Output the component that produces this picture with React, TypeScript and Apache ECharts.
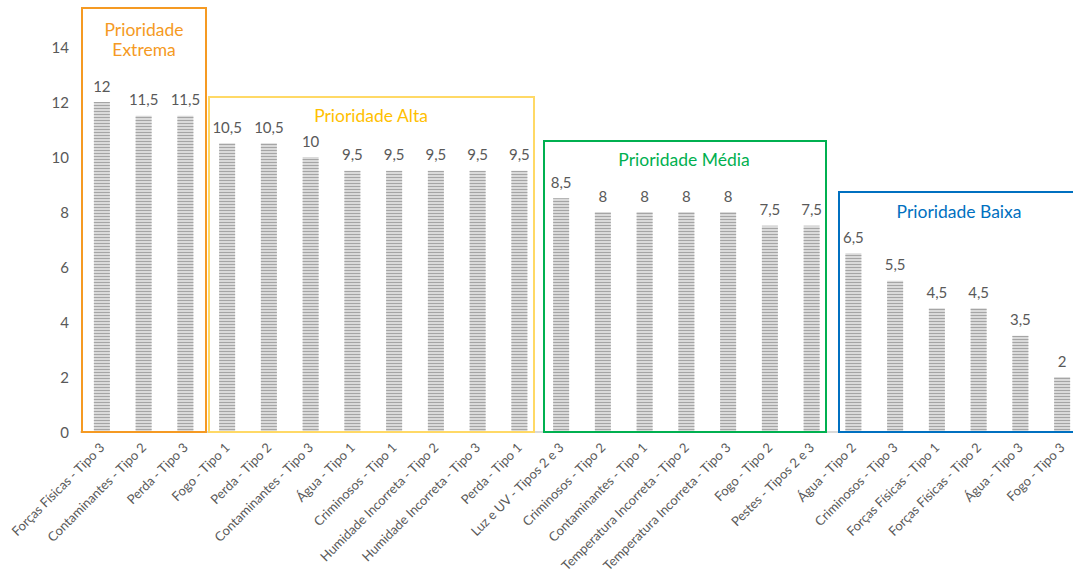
import React, { useEffect, useRef } from "react";
import * as echarts from "echarts";

const categories = [
  "Forças Físicas - Tipo 3",
  "Contaminantes - Tipo 2",
  "Perda - Tipo 3",
  "Fogo - Tipo 1",
  "Perda - Tipo 2",
  "Contaminantes - Tipo 3",
  "Água - Tipo 1",
  "Criminosos - Tipo 1",
  "Humidade Incorreta - Tipo 2",
  "Humidade Incorreta - Tipo 3",
  "Perda - Tipo 1",
  "Luz e UV - Tipos 2 e 3",
  "Criminosos - Tipo 2",
  "Contaminantes - Tipo 1",
  "Temperatura Incorreta - Tipo 2",
  "Temperatura Incorreta - Tipo 3",
  "Fogo - Tipo 2",
  "Pestes - Tipos 2 e 3",
  "Água - Tipo 2",
  "Criminosos - Tipo 3",
  "Forças Físicas - Tipo 1",
  "Forças Físicas - Tipo 2",
  "Água - Tipo 3",
  "Fogo - Tipo 3",
];

const values = [
  12, 11.5, 11.5, 10.5, 10.5, 10, 9.5, 9.5, 9.5, 9.5, 9.5, 8.5, 8, 8, 8, 8, 7.5, 7.5, 6.5, 5.5, 4.5, 4.5, 3.5, 2,
];

const yMin = 0;
const yMax = 14;
const yInterval = 2;

const FONT = "Lato, 'Open Sans', sans-serif";
const GRAY = "#595959";

export default function App() {
  const ref = useRef<HTMLDivElement>(null);
  useEffect(() => {
    document.body.style.margin = "0";
    const chart = echarts.init(ref.current!, null, { renderer: "svg" });
    const box = (
      x: number,
      y: number,
      w: number,
      h: number,
      color: string,
      text: string,
      tx: number,
      ty: number,
      textColor: string
    ) => [
      {
        type: "rect",
        shape: { x, y, width: w, height: h },
        style: { fill: "none", stroke: color, lineWidth: 2 },
        z: 10,
      },
      {
        type: "text",
        x: tx,
        y: ty,
        style: {
          text,
          fill: textColor,
          font: `17.5px ${FONT}`,
          textAlign: "center",
          textVerticalAlign: "middle",
          lineHeight: 20,
        },
        z: 10,
      },
    ];
    chart.setOption({
      animation: false,
      grid: { left: 81, top: 47, bottom: 145, right: 9 },
      xAxis: {
        type: "category",
        data: categories,
        axisLine: { lineStyle: { color: "#d9d9d9", width: 2 } },
        axisTick: { show: false },
        axisLabel: {
          interval: 0,
          rotate: 45,
          color: GRAY,
          fontSize: 13,
          fontFamily: FONT,
          margin: 13,
        },
      },
      yAxis: {
        type: "value",
        min: yMin,
        max: yMax,
        interval: yInterval,
        splitLine: { show: false },
        axisLine: { show: false },
        axisTick: { show: false },
        axisLabel: { color: GRAY, fontSize: 15, fontFamily: FONT, margin: 12 },
      },
      series: [
        {
          type: "bar",
          data: values,
          barWidth: 16,
          itemStyle: {
            color: "#dadada",
            decal: {
              symbol: "rect",
              color: "#a5a5a5",
              dashArrayX: [1, 0],
              dashArrayY: [1, 2],
              rotation: 0,
              symbolSize: 1,
            },
          },
          label: {
            show: true,
            position: "top",
            distance: 9,
            color: GRAY,
            fontSize: 15,
            fontFamily: FONT,
            formatter: (p: any) => String(p.value).replace(".", ","),
          },
        },
      ],
      graphic: [
        ...box(82, 8, 124, 424, "#f59a23", "Prioridade\nExtrema", 144, 39, "#f59a23"),
        ...box(209, 97, 325, 335, "#ffd966", "Prioridade Alta", 371, 115, "#ffc000"),
        ...box(544, 141, 282, 291, "#00b050", "Prioridade Média", 684, 159, "#00b050"),
        ...box(839, 192, 260, 240, "#0070c0", "Prioridade Baixa", 959, 211, "#0070c0"),
      ],
    });
    return () => chart.dispose();
  }, []);
  return (
    <div style={{ width: 1073, height: 577, overflow: "hidden", position: "relative" }}>
      <div ref={ref} style={{ width: 1092, height: 577 }} />
    </div>
  );
}
